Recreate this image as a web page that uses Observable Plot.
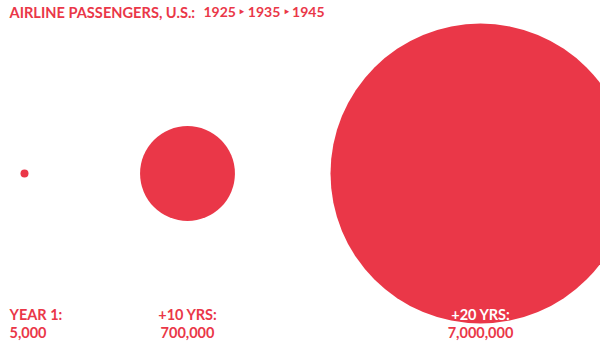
<!DOCTYPE html>
<html>
<head>
<meta charset="utf-8">
<script src="https://cdn.jsdelivr.net/npm/d3@7"></script>
<script src="https://cdn.jsdelivr.net/npm/@observablehq/plot@0.6"></script>
<style>
  html, body { margin: 0; padding: 0; background: #fff; }
</style>
</head>
<body>
<div id="chart"></div>
<script>
const titlePrefix = "AIRLINE PASSENGERS, U.S.:";
const years = [1925, 1935, 1945];
const periodLabels = ["YEAR 1:", "+10 YRS:", "+20 YRS:"];
const passengers = [5000, 700000, 7000000];

const RED = "#ea3748";
const FONT = "Lato, 'Open Sans', sans-serif";
const fmt = d3.format(",");

const data = years.map((y, i) => ({year: y, label: periodLabels[i], value: passengers[i], idx: i}));
const first = data.slice(0, 1);
const rest = data.slice(1);
const yearsText = years.join(" \u2023 ");

const chart = Plot.plot({
  width: 600,
  height: 350,
  margin: 0,
  style: {fontFamily: FONT, background: "#fff"},
  x: {axis: null, type: "linear", domain: years, range: [24, 187, 480]},
  r: {type: "sqrt", domain: [0, 7000000], range: [0, 150]},
  marks: [
    Plot.dot(data, {x: "year", r: "value", fill: RED, stroke: "none", frameAnchor: "middle", dy: -2}),
    Plot.text([titlePrefix], {text: d => d, frameAnchor: "top-left", textAnchor: "start", lineAnchor: "top",
      dx: 9, dy: 7, fontSize: 14.6, fontWeight: 700, fill: RED, fontFamily: FONT}),
    Plot.text([yearsText], {text: d => d, frameAnchor: "top-left", textAnchor: "start", lineAnchor: "top",
      dx: 203, dy: 7, fontSize: 14, fontWeight: 700, fill: RED, fontFamily: FONT}),
    // first label: left aligned
    Plot.text(first, {text: "label", frameAnchor: "bottom-left", textAnchor: "start", lineAnchor: "bottom",
      dx: 9, dy: -31, fontSize: 14.5, fontWeight: 700, fill: RED, fontFamily: FONT}),
    Plot.text(first, {text: d => fmt(d.value), frameAnchor: "bottom-left", textAnchor: "start", lineAnchor: "bottom",
      dx: 9, dy: -13, fontSize: 14.5, fontWeight: 700, fill: RED, fontFamily: FONT}),
    // other labels centred under circles
    Plot.text(rest, {x: "year", text: "label", frameAnchor: "bottom", textAnchor: "middle", lineAnchor: "bottom",
      dy: -31, fontSize: 14.5, fontWeight: 700, fill: d => d.idx === 2 ? "#ffffff" : RED, fontFamily: FONT}),
    Plot.text(rest, {x: "year", text: d => fmt(d.value), frameAnchor: "bottom", textAnchor: "middle", lineAnchor: "bottom",
      dy: -13, fontSize: 14.5, fontWeight: 700, fill: RED, fontFamily: FONT})
  ]
});
document.getElementById("chart").appendChild(chart);
</script>
</body>
</html>
